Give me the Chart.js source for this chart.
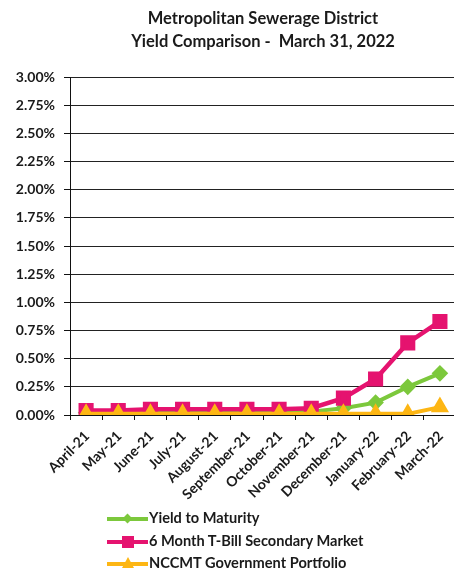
<!DOCTYPE html>
<html lang="en">
<head>
    <meta charset="UTF-8">
    <title>Yield Comparison</title>
    <style>
        html, body { margin: 0; padding: 0; background: #fff; overflow: hidden; }
        .wrap { position: relative; width: 454px; height: 574px; overflow: hidden; }
        #myChart { position: absolute; left: 0; top: 0; }
        .legend { position: absolute; left: 105px; top: 507px; font: bold 14.6px Lato, sans-serif; color: #1a1a1a; }
        .item { position: relative; height: 22.5px; line-height: 22px; padding-left: 44px; white-space: nowrap; }
        .item .ln { position: absolute; left: 2px; top: 10px; width: 41px; height: 4px; }
        .item .mk { position: absolute; }
    </style>
</head>
<body>
    <div class="wrap">
        <canvas id="myChart" width="468" height="574"></canvas>
        <div class="legend" id="legend"></div>
    </div>
    <script src="https://cdn.jsdelivr.net/npm/chart.js@4/dist/chart.umd.min.js"></script>
    <script>
        const months = ["April-21", "May-21", "June-21", "July-21", "August-21", "September-21",
            "October-21", "November-21", "December-21", "January-22", "February-22", "March-22"];
        const yieldToMaturity = [0.02, 0.02, 0.02, 0.02, 0.02, 0.02, 0.02, 0.03, 0.06, 0.11, 0.25, 0.37];
        const tBill6Month = [0.04, 0.04, 0.05, 0.05, 0.05, 0.05, 0.05, 0.06, 0.15, 0.32, 0.64, 0.83];
        const nccmt = [0.01, 0.01, 0.01, 0.01, 0.01, 0.01, 0.01, 0.01, 0.01, 0.01, 0.01, 0.07];
        const seriesNames = ["Yield to Maturity", "6 Month T-Bill Secondary Market", "NCCMT Government Portfolio"];
        const yTicks = [0, 0.25, 0.5, 0.75, 1, 1.25, 1.5, 1.75, 2, 2.25, 2.5, 2.75, 3];

        const green = "#7cc83c";
        const pink = "#e5136f";
        const gold = "#fdb614";

        const ctx = document.getElementById('myChart').getContext('2d');
        const myChart = new Chart(ctx, {
            type: 'line',
            data: {
                labels: months,
                datasets: [{
                    label: seriesNames[0],
                    data: yieldToMaturity,
                    borderColor: green,
                    backgroundColor: green,
                    borderWidth: 4,
                    pointStyle: 'rectRot',
                    pointRadius: 5.5,
                    order: 2
                }, {
                    label: seriesNames[1],
                    data: tBill6Month,
                    borderColor: pink,
                    backgroundColor: pink,
                    borderWidth: 4.5,
                    pointStyle: 'rect',
                    pointRadius: 7.5,
                    order: 1
                }, {
                    label: seriesNames[2],
                    data: nccmt,
                    borderColor: gold,
                    backgroundColor: gold,
                    borderWidth: 4,
                    pointStyle: 'triangle',
                    pointRadius: 6.5,
                    order: 0
                }]
            },
            options: {
                responsive: false,
                animation: false,
                layout: { padding: { left: 0, right: 3, top: 0, bottom: 59 } },
                plugins: {
                    legend: { display: false },
                    tooltip: { enabled: false },
                    title: {
                        display: true,
                        fullSize: false,
                        text: ["Metropolitan Sewerage District", "Yield Comparison -  March 31, 2022"],
                        color: "#1a1a1a",
                        font: { family: "Lato", size: 16.5, weight: "bold", lineHeight: 1.394 },
                        padding: { top: 7.5, bottom: 23.5 }
                    }
                },
                scales: {
                    x: {
                        offset: true,
                        grid: { display: true, drawOnChartArea: false, offset: true, color: "#111", tickLength: 5 },
                        border: { color: "#111", width: 1 },
                        ticks: {
                            autoSkip: false,
                            minRotation: 45,
                            maxRotation: 45,
                            padding: 8,
                            labelOffset: 1,
                            color: "#1a1a1a",
                            font: { family: "Lato", size: 14, weight: "bold" }
                        },
                        afterFit: s => { s.height = 100; }
                    },
                    y: {
                        min: 0,
                        max: 3,
                        afterBuildTicks: s => { s.ticks = yTicks.map(v => ({ value: v })); },
                        grid: { color: "#222", lineWidth: 1, tickLength: 6, tickColor: "#111" },
                        border: { color: "#111", width: 1 },
                        ticks: {
                            padding: 9,
                            color: "#1a1a1a",
                            font: { family: "Lato", size: 14, weight: "bold" },
                            callback: v => v.toFixed(2) + '%'
                        },
                        afterFit: s => { s.width = 70; }
                    }
                }
            }
        });

        // legend under the chart, one row per series
        const marks = [
            '<svg class="mk" width="11" height="11" style="top:6px;left:17px"><rect x="2" y="2" width="7" height="7" fill="' + green + '" transform="rotate(45 5.5 5.5)"/></svg>',
            '<svg class="mk" width="12" height="12" style="top:6px;left:17px"><rect x="0" y="0" width="12" height="12" fill="' + pink + '"/></svg>',
            '<svg class="mk" width="12" height="11" style="top:5px;left:17px"><polygon points="6,0 12,11 0,11" fill="' + gold + '"/></svg>'
        ];
        const cols = [green, pink, gold];
        document.getElementById('legend').innerHTML = seriesNames.map((n, i) =>
            '<div class="item"><span class="ln" style="background:' + cols[i] + '"></span>' + marks[i] + n + '</div>'
        ).join('');
    </script>
</body>
</html>
